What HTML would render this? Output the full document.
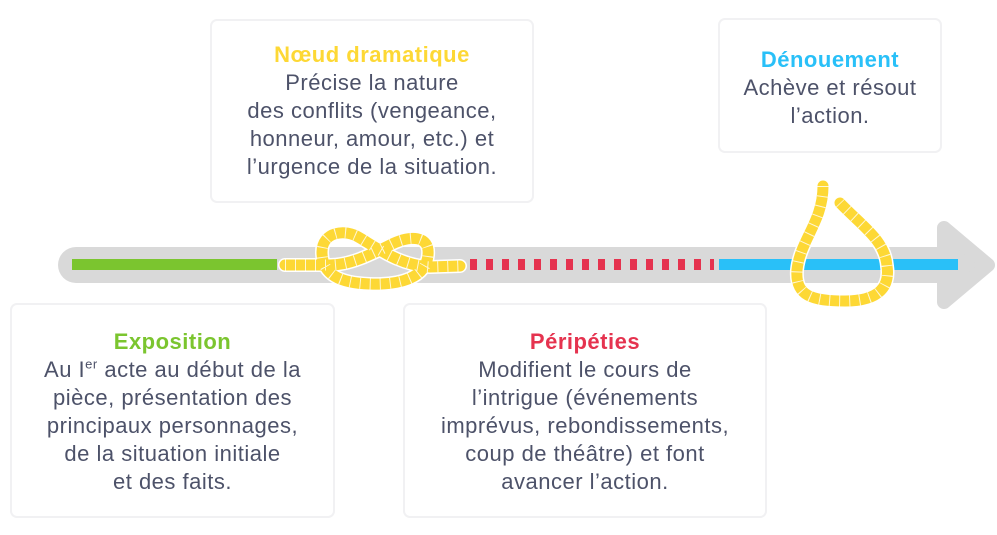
<!DOCTYPE html>
<html><head><meta charset="utf-8"><style>
html,body{margin:0;padding:0;background:#fff;}
body{width:997px;height:535px;position:relative;overflow:hidden;font-family:"Liberation Sans",sans-serif;}
.box{position:absolute;box-sizing:border-box;border:2px solid #f1f1f3;border-radius:7px;background:#fff;}
.t{position:absolute;left:0;right:0;text-align:center;font-size:22px;letter-spacing:0.5px;line-height:28px;color:#4d5269;}
.t b{display:block;}
svg{position:absolute;left:0;top:0;}
</style></head><body>
<div class="box" style="left:210px;top:19px;width:324px;height:184px"></div>
<div class="box" style="left:718px;top:18px;width:224px;height:135px"></div>
<div class="box" style="left:10px;top:303px;width:325px;height:215px"></div>
<div class="box" style="left:403px;top:303px;width:364px;height:215px"></div>

<div class="t" style="left:210px;width:324px;top:41px"><b style="color:#fdd835">Nœud dramatique</b>Précise la nature<br>des conflits (vengeance,<br>honneur, amour, etc.) et<br>l’urgence de la situation.</div>
<div class="t" style="left:718px;width:224px;top:46px"><b style="color:#29c0f8">Dénouement</b>Achève et résout<br>l’action.</div>
<div class="t" style="left:10px;width:325px;top:328px"><b style="color:#7bc52f">Exposition</b>Au I<sup style="font-size:13px;line-height:0">er</sup> acte au début de la<br>pièce, présentation des<br>principaux personnages,<br>de la situation initiale<br>et des faits.</div>
<div class="t" style="left:403px;width:364px;top:328px"><b style="color:#e5334f">Péripéties</b>Modifient le cours de<br>l’intrigue (événements<br>imprévus, rebondissements,<br>coup de théâtre) et font<br>avancer l’action.</div>

<svg width="997" height="535" viewBox="0 0 997 535">
<rect x="58" y="247" width="900" height="36" rx="18" fill="#d9d9d9"/>
<path d="M944,228 L988,265 L944,302 Z" fill="#d9d9d9" stroke="#d9d9d9" stroke-width="14" stroke-linejoin="round"/>
<rect x="72" y="259" width="205" height="11" fill="#7bc52f"/>
<line x1="470" y1="264.5" x2="714" y2="264.5" stroke="#e5334f" stroke-width="11" stroke-dasharray="7 9"/>
<rect x="719" y="259" width="239" height="11" fill="#29c0f8"/>
<g fill="none" stroke-linecap="round">
<path d="M285,265 L330,265 C350,265 370,255 390,245 C410,235 430,235 428,255 C426,278 400,285 370,284 C340,283 322,275 322,252 C322,232 345,228 360,238 C380,250 400,265 430,267 L460,266" stroke="#fff" stroke-width="14"/>
<path d="M285,265 L330,265 C350,265 370,255 390,245 C410,235 430,235 428,255 C426,278 400,285 370,284 C340,283 322,275 322,252 C322,232 345,228 360,238 C380,250 400,265 430,267 L460,266" stroke="#fdd835" stroke-width="11"/>
<path d="M285,265 L330,265 C350,265 370,255 390,245 C410,235 430,235 428,255 C426,278 400,285 370,284 C340,283 322,275 322,252 C322,232 345,228 360,238 C380,250 400,265 430,267 L460,266" stroke="#fff" stroke-width="11" stroke-dasharray="1 9" stroke-linecap="butt" opacity="0.8"/>
<path d="M823,186 C823,222 800,240 797,270 C795,296 812,301 845,301 C880,301 890,286 887,266 C885,240 862,226 840,203" stroke="#fff" stroke-width="14"/>
<path d="M823,186 C823,222 800,240 797,270 C795,296 812,301 845,301 C880,301 890,286 887,266 C885,240 862,226 840,203" stroke="#fdd835" stroke-width="11"/>
<path d="M823,186 C823,222 800,240 797,270 C795,296 812,301 845,301 C880,301 890,286 887,266 C885,240 862,226 840,203" stroke="#fff" stroke-width="11" stroke-dasharray="1 9" stroke-linecap="butt" opacity="0.8"/>
</g>
</svg>
</body></html>
